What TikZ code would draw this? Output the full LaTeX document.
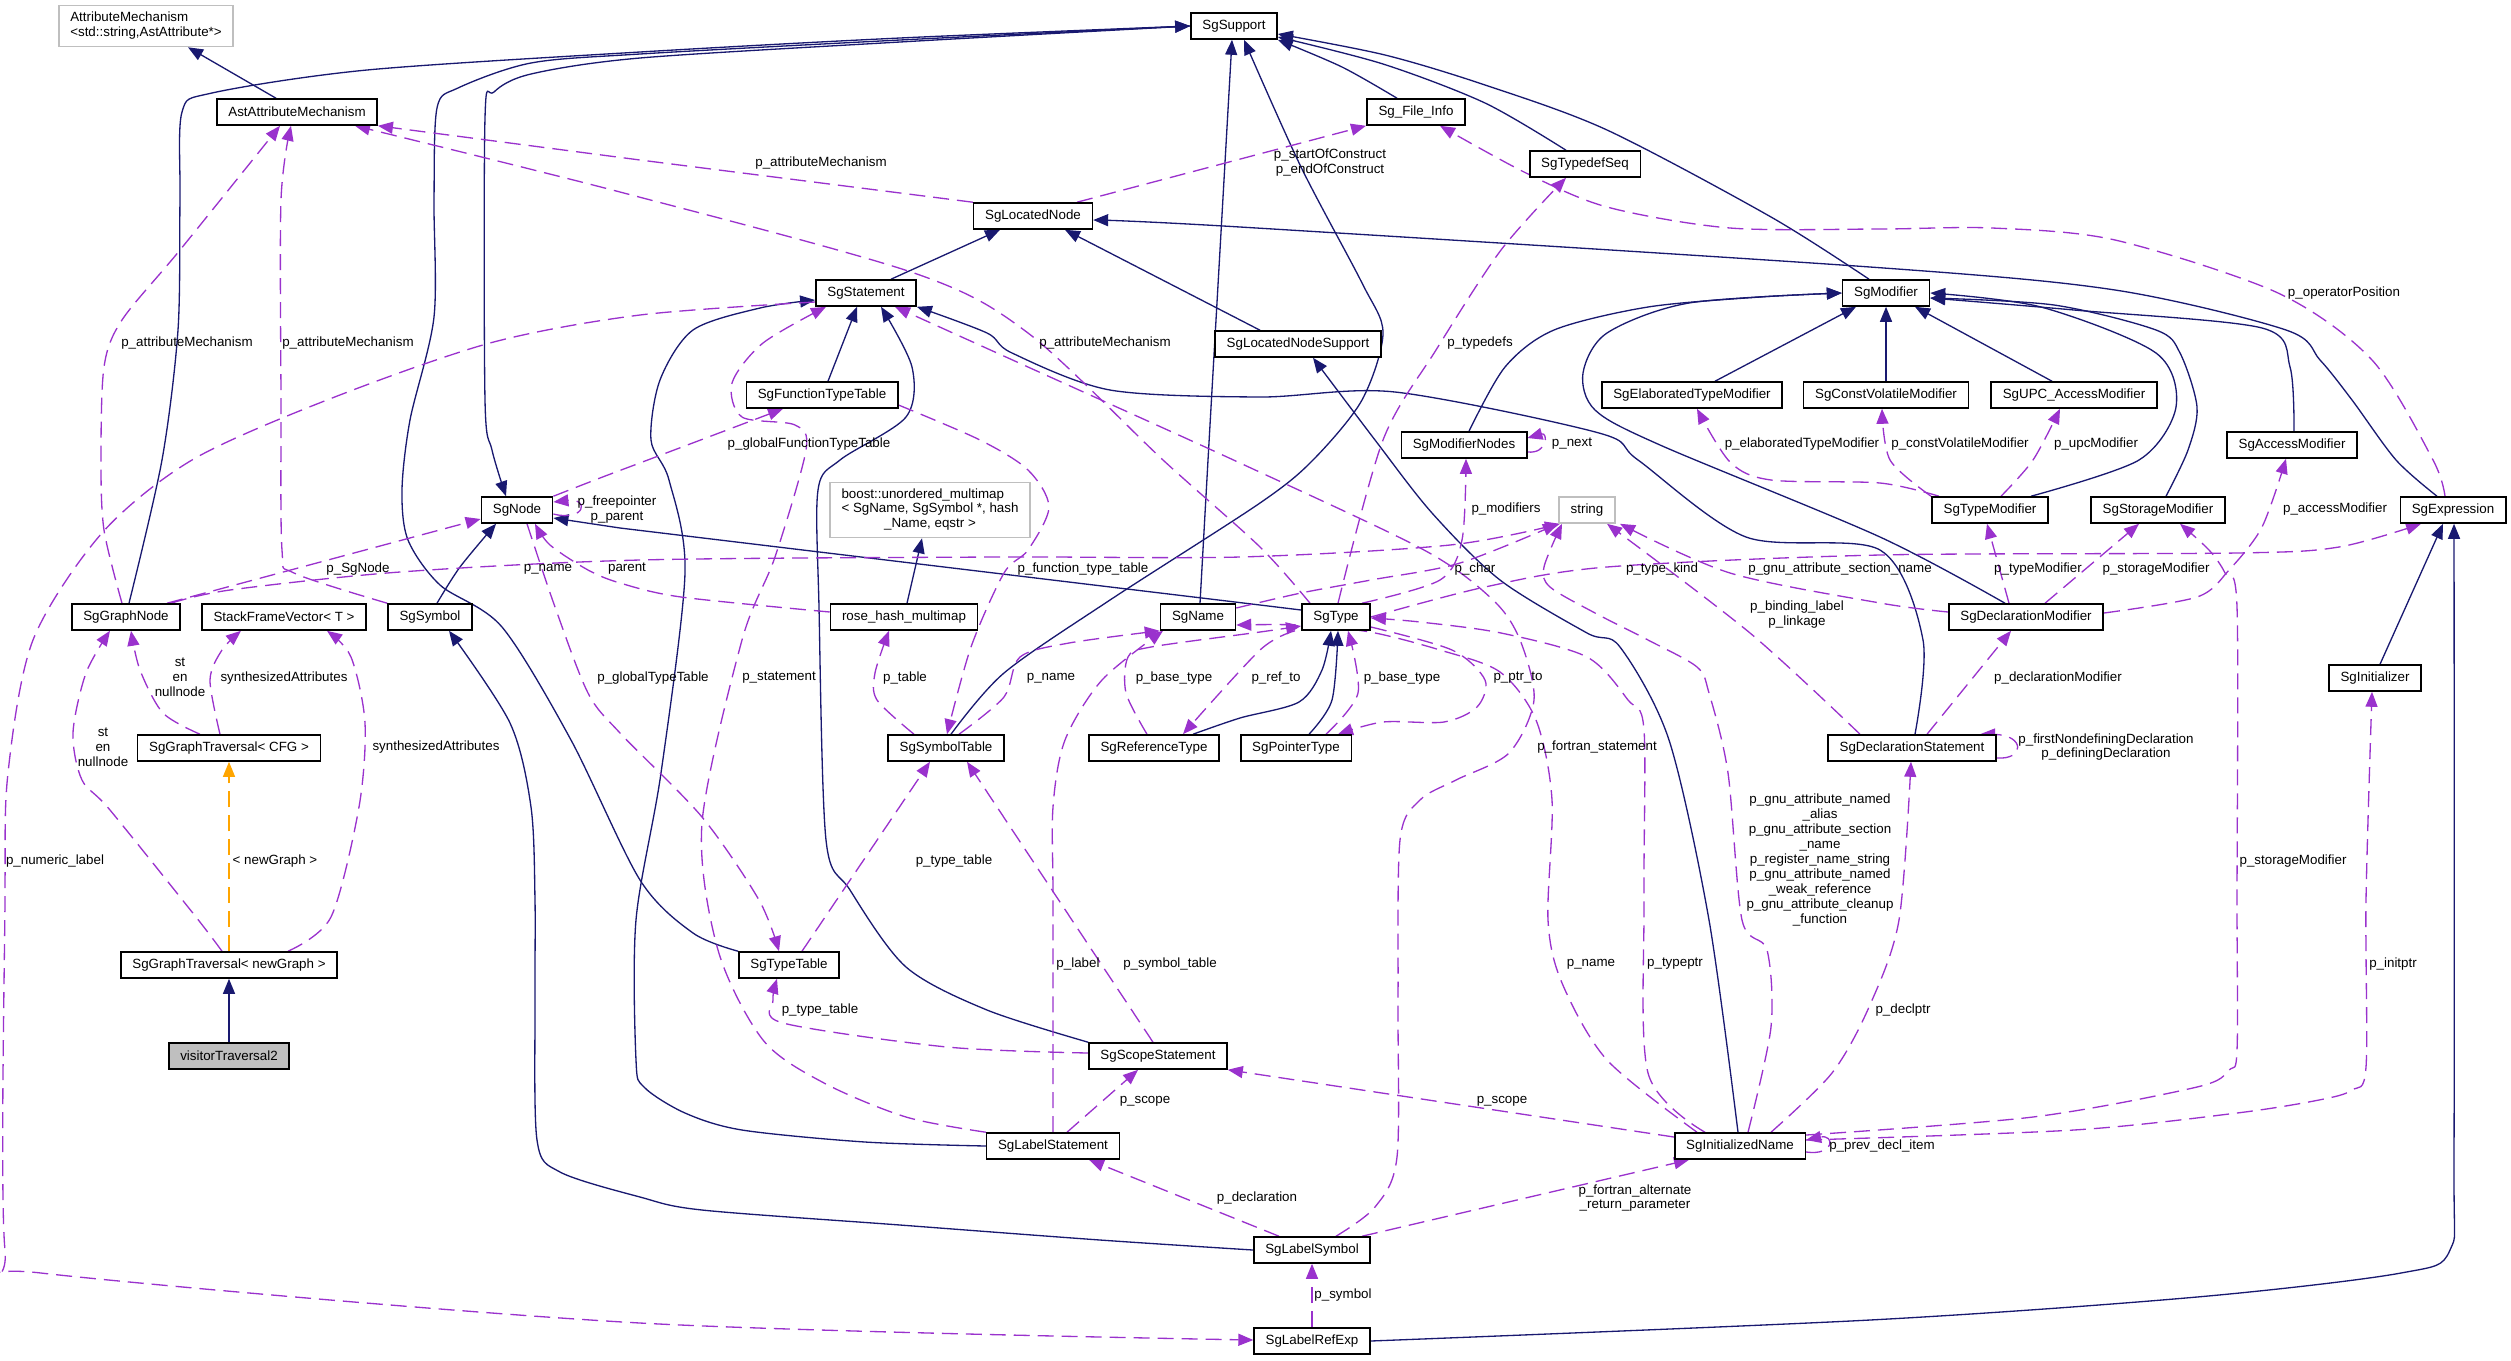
\documentclass[tikz,border=0pt]{standalone}
\usepackage{fontspec}
\setmainfont{Liberation Sans}
\usetikzlibrary{arrows.meta}
\definecolor{inhblue}{HTML}{191970}
\definecolor{usepurple}{HTML}{9A32CD}
\definecolor{tplorange}{HTML}{FFA500}
\definecolor{boxgray}{HTML}{BFBFBF}
\newcommand{\dxfont}{\fontsize{7.6}{8.5}\selectfont}
\pgfdeclarelayer{edges}
\pgfsetlayers{edges,main}
\begin{document}
\begin{tikzpicture}[x=0.02cm, y=-0.02cm,
    cls/.style={draw=black, line width=0.9pt, fill=white, font=\dxfont, inner xsep=0.23cm, inner ysep=0pt, minimum height=0.52cm},
    extcls/.style={cls, draw=boxgray},
    rootcls/.style={cls, fill=boxgray},
    inherit/.style={inhblue, line width=0.75pt, -{Triangle[length=0.3cm,width=0.24cm]}},
    usage/.style={usepurple, line width=0.75pt, dash pattern=on 0.32cm off 0.16cm, -{Triangle[length=0.3cm,width=0.24cm]}},
    tplinst/.style={usage, tplorange},
    lbl/.style={font=\dxfont, inner sep=0pt, align=center}]
\useasboundingbox (0,0) rectangle (2511,1360);

\node[extcls, align=left, minimum height=0.82cm] (AttrMech) at (146,26) {AttributeMechanism\\<std::string,AstAttribute*>};
\node[cls] (AstAttr) at (297,112) {AstAttributeMechanism};
\node[cls] (SgSupport) at (1234,26) {SgSupport};
\node[cls] (FileInfo) at (1416,112) {Sg\_File\_Info};
\node[cls] (TypedefSeq) at (1585,164) {SgTypedefSeq};
\node[cls] (LocNode) at (1033,216) {SgLocatedNode};
\node[cls] (Stmt) at (866,293) {SgStatement};
\node[cls] (Modifier) at (1886,293) {SgModifier};
\node[cls] (LocNodeSup) at (1298,344) {SgLocatedNodeSupport};
\node[cls] (FuncTT) at (822,395) {SgFunctionTypeTable};
\node[cls] (ElabMod) at (1692,395) {SgElaboratedTypeModifier};
\node[cls] (CVMod) at (1886,395) {SgConstVolatileModifier};
\node[cls] (UPCMod) at (2074,395) {SgUPC\_AccessModifier};
\node[cls] (ModNodes) at (1464,445) {SgModifierNodes};
\node[cls] (AccMod) at (2292,445) {SgAccessModifier};
\node[cls] (SgNode) at (517,510) {SgNode};
\node[extcls, minimum height=1.1cm] (Boost) at (930,510) {\begin{tabular}{@{}l@{}}boost::unordered\_multimap\\< SgName, SgSymbol *, hash\\\multicolumn{1}{@{}c@{}}{\_Name, eqstr >}\end{tabular}};
\node[extcls] (Str) at (1587,510) {string};
\node[cls] (TypeMod) at (1990,510) {SgTypeModifier};
\node[cls] (StorMod) at (2158,510) {SgStorageModifier};
\node[cls] (Expr) at (2453,510) {SgExpression};
\node[cls] (GraphNode) at (126,617) {SgGraphNode};
\node[cls] (StackFV) at (284,617) {StackFrameVector< T >};
\node[cls] (Symbol) at (430,617) {SgSymbol};
\node[cls] (RoseHash) at (904,617) {rose\_hash\_multimap};
\node[cls] (Name) at (1198,617) {SgName};
\node[cls] (Type) at (1336,617) {SgType};
\node[cls] (DeclMod) at (2026,617) {SgDeclarationModifier};
\node[cls] (Init) at (2375,678) {SgInitializer};
\node[cls] (TravCFG) at (229,748) {SgGraphTraversal< CFG >};
\node[cls] (SymTab) at (946,748) {SgSymbolTable};
\node[cls] (RefType) at (1154,748) {SgReferenceType};
\node[cls] (PtrType) at (1296,748) {SgPointerType};
\node[cls] (DeclStmt) at (1912,748) {SgDeclarationStatement};
\node[cls] (TravNew) at (229,965) {SgGraphTraversal< newGraph >};
\node[cls] (TypeTable) at (789,965) {SgTypeTable};
\node[rootcls] (Visitor) at (229,1056) {visitorTraversal2};
\node[cls] (ScopeStmt) at (1158,1056) {SgScopeStatement};
\node[cls] (LabelStmt) at (1053,1146) {SgLabelStatement};
\node[cls] (InitName) at (1740,1146) {SgInitializedName};
\node[cls] (LabelSym) at (1312,1250) {SgLabelSymbol};
\node[cls] (LabelRef) at (1312,1341) {SgLabelRefExp};

\begin{pgfonlayer}{edges}
\draw[inherit] (276,0 |- AstAttr.north) -- (188,0 |- AttrMech.south);
\draw[inherit] plot[smooth] coordinates {(129,0 |- GraphNode.north) (162,460) (178,330) (180,200) (182,112) (212,93) (367,70) (640,52) (900,38) (SgSupport.west)};
\draw[inherit] plot[smooth] coordinates {(TypeTable.north west) (693,933) (640,880) (571,740) (502,627) (440,585) (408,540) (402,490) (410,420) (434,317) (434,200) (437,108) (458,88) (531,63) (640,54) (900,40) (SgSupport.west)};
\draw[inherit] plot[smooth] coordinates {(SgSupport.west) (900,42) (640,58) (531,74) (494,92) (485,118) (485,400) (492,450) (506,0 |- SgNode.north)};
\draw[inherit] plot[smooth] coordinates {(437,0 |- Symbol.north) (460,567) (496,0 |- SgNode.south)};
\draw[inherit] plot[smooth] coordinates {(LabelSym.west) (1100,1240) (900,1225) (702,1210) (640,1197) (560,1172) (537,1140) (535,1000) (535,900) (531,807) (510,723) (449,0 |- Symbol.south)};
\draw[inherit] (1200,0 |- Name.north) -- (1208,460) -- (1232,0 |- SgSupport.south);
\draw[inherit] plot[smooth] coordinates {(951,0 |- SymTab.north) (1004,673) (1110,600) (1260,503) (1313,460) (1362,400) (1383,333) (1362,283) (1301,167) (1244,0 |- SgSupport.south)};
\draw[inherit] plot[smooth] coordinates {(1397,0 |- FileInfo.north) (1342,67) (SgSupport.south east)};
\draw[inherit] plot[smooth] coordinates {(1566,0 |- TypedefSeq.north) (1485,103) (1383,64) (SgSupport.east |- 0,37)};
\draw[inherit] plot[smooth] coordinates {(1869,0 |- Modifier.north) (1771,217) (1607,130) (1485,85) (1385,55) (SgSupport.east |- 0,34)};
\draw[inherit] (891,0 |- Stmt.north) -- (1000,0 |- LocNode.south);
\draw[inherit] (1260,0 |- LocNodeSup.north) -- (1065,0 |- LocNode.south);
\draw[inherit] plot[smooth] coordinates {(2437,0 |- Expr.north) (2396,460) (2352,400) (2320,360) (2286,330) (2115,290) (1870,267) (1240,227) (LocNode.east |- 0,220)};
\draw[inherit] (828,0 |- FuncTT.north) -- (857,0 |- Stmt.south);
\draw[inherit] plot[smooth] coordinates {(ScopeStmt.north west) (987,1010) (906,967) (850,890) (826,840) (819,607) (818,490) (840,460) (906,417) (912,367) (881,0 |- Stmt.south)};
\draw[inherit] plot[smooth] coordinates {(LabelStmt.west) (865,1142) (742,1130) (685,1113) (644,1087) (636,1060) (636,920) (661,773) (685,573) (669,480) (651,440) (660,380) (693,330) (760,308) (Stmt.west |- 0,300)};
\draw[inherit] plot[smooth] coordinates {(1915,0 |- DeclStmt.north) (1923,640) (1880,550) (1746,537) (1638,460) (1599,433) (1395,392) (1260,397) (1110,390) (1012,353) (987,333) (Stmt.south east)};
\draw[inherit] (1715,0 |- ElabMod.north) -- (1856,0 |- Modifier.south);
\draw[inherit] (CVMod.north) -- (Modifier.south);
\draw[inherit] (2052,0 |- UPCMod.north) -- (1915,0 |- Modifier.south);
\draw[inherit] plot[smooth] coordinates {(1469,0 |- ModNodes.north) (1505,367) (1554,330) (1648,307) (1760,297) (Modifier.west)};
\draw[inherit] plot[smooth] coordinates {(2005,0 |- DeclMod.north) (1880,537) (1660,445) (1595,410) (1583,373) (1607,333) (1689,303) (Modifier.west)};
\draw[inherit] plot[smooth] coordinates {(2031,0 |- TypeMod.north) (2139,460) (2176,407) (2156,353) (2041,307) (Modifier.east)};
\draw[inherit] plot[smooth] coordinates {(2166,0 |- StorMod.north) (2188,450) (2197,407) (2180,353) (2156,330) (2054,305) (Modifier.east |- 0,298)};
\draw[inherit] plot[smooth] coordinates {(2294,0 |- AccMod.north) (2290,367) (2262,328) (2074,310) (Modifier.east |- 0,298)};
\draw[inherit] (2380,0 |- Init.north) -- (2443,0 |- Expr.south);
\draw[inherit] plot[smooth] coordinates {(LabelRef.east) (1870,1320) (2197,1297) (2401,1273) (2450,1250) (2454,1150) (2454,0 |- Expr.south)};
\draw[inherit] plot[smooth] coordinates {(1738,0 |- InitName.north) (1709,920) (1669,740) (1620,647) (1587,633) (1500,580) (1432,513) (1375,440) (1313,0 |- LocNodeSup.south)};
\draw[inherit] plot[smooth] coordinates {(1193,0 |- RefType.north) (1240,718) (1299,702) (1322,670) (1331,0 |- Type.south)};
\draw[inherit] plot[smooth] coordinates {(1309,0 |- PtrType.north) (1332,700) (1338,0 |- Type.south)};
\draw[inherit] (Type.west |- 0,610) -- (1260,605) -- (620,528) -- (SgNode.east |- 0,518);
\draw[inherit] (907,0 |- RoseHash.north) -- (922,0 |- Boost.south);
\draw[inherit] (Visitor.north) -- (TravNew.south);
\draw[tplinst] (TravNew.north) -- (TravCFG.south);

\draw[usage] plot[smooth] coordinates {(122,0 |- GraphNode.north) (104,530) (101,460) (104,367) (122,320) (180,250) (280,0 |- AstAttr.south)};
\draw[usage] plot[smooth] coordinates {(Symbol.north west) (294,573) (282,550) (281,400) (281,200) (291,0 |- AstAttr.south)};
\draw[usage] (LocNode.north west) -- (640,160) -- (AstAttr.south east);
\draw[usage] plot[smooth] coordinates {(1310,0 |- Type.north) (1260,547) (1163,460) (1028,333) (914,273) (620,192) (355,0 |- AstAttr.south)};
\draw[usage] plot[smooth] coordinates {(Stmt.west |- 0,302) (640,315) (490,343) (327,400) (192,460) (102,533) (33,640) (8,773) (5,900) (5,1250) (41,1273) (640,1323) (LabelRef.west |- 0,1340)};
\draw[usage] plot[smooth] coordinates {(LabelStmt.north west) (906,1117) (824,1083) (763,1040) (718,950) (702,823) (742,640) (775,557) (806,450) (795,425) (742,417) (732,383) (763,343) (826,0 |- Stmt.south)};
\draw[usage] plot[smooth] coordinates {(1336,0 |- LabelSym.north) (1375,1207) (1397,1157) (1398,1000) (1400,840) (1420,800) (1456,780) (1509,753) (1534,700) (1520,640) (1493,600) (1424,550) (1240,463) (1028,367) (895,0 |- Stmt.south)};
\draw[usage] (SgNode.east |- 0,514) .. controls (585,522) and (590,498) .. (SgNode.east |- 0,502);
\draw[usage] (167,0 |- GraphNode.north) -- (SgNode.west |- 0,519);
\draw[usage] plot[smooth] coordinates {(171,0 |- GraphNode.north) (230,590) (400,572) (640,560) (1000,557) (1240,557) (1450,545) (1560,0 |- Str.south)};
\draw[usage] plot[smooth] coordinates {(RoseHash.west |- 0,612) (681,597) (620,583) (588,570) (550,545) (535,0 |- SgNode.south)};
\draw[usage] plot[smooth] coordinates {(527,0 |- SgNode.south) (555,607) (588,693) (620,733) (702,817) (759,900) (779,0 |- TypeTable.north)};
\draw[usage] plot[smooth] coordinates {(SgNode.north east) (600,478) (653,458) (783,0 |- FuncTT.south)};
\draw[usage] plot[smooth] coordinates {(FuncTT.east |- 0,405) (980,440) (1028,470) (1049,507) (1028,550) (1004,573) (971,647) (947,0 |- SymTab.north)};
\draw[usage] plot[smooth] coordinates {(914,0 |- SymTab.north) (877,700) (875,673) (889,0 |- RoseHash.south)};
\draw[usage] plot[smooth] coordinates {(959,0 |- SymTab.north) (1004,697) (1020,657) (1069,643) (Name.south west)};
\draw[usage] (802,0 |- TypeTable.north) -- (930,0 |- SymTab.south);
\draw[usage] (1153,0 |- ScopeStmt.north) -- (967,0 |- SymTab.south);
\draw[usage] plot[smooth] coordinates {(ScopeStmt.west |- 0,1053) (947,1047) (783,1023) (773,1000) (777,0 |- TypeTable.south)};
\draw[usage] (1067,0 |- LabelStmt.north) -- (1138,0 |- ScopeStmt.south);
\draw[usage] plot[smooth] coordinates {(1053,0 |- LabelStmt.north) (1053,900) (1053,807) (1065,740) (1102,680) (1163,0 |- Name.south)};
\draw[usage] (1279,0 |- LabelSym.north) -- (1089,0 |- LabelStmt.south);
\draw[usage] (1362,0 |- LabelSym.north) -- (1689,0 |- InitName.south);
\draw[usage] (LabelRef.north) -- (LabelSym.south);
\draw[usage] (InitName.west |- 0,1137) -- (ScopeStmt.south east);
\draw[usage] (InitName.east |- 0,1152) .. controls (1835,1156) and (1835,1134) .. (InitName.east |- 0,1140);
\draw[usage] plot[smooth] coordinates {(1697,0 |- InitName.north) (1607,1060) (1562,983) (1548,920) (1552,800) (1536,720) (1500,672) (1440,650) (1370,632) (1300,625) (Name.east |- 0,625)};
\draw[usage] plot[smooth] coordinates {(1705,0 |- InitName.north) (1648,1073) (1644,900) (1644,730) (1628,700) (1587,657) (1501,633) (1420,622) (Type.east |- 0,618)};
\draw[usage] plot[smooth] coordinates {(1748,0 |- InitName.north) (1771,1027) (1767,950) (1742,920) (1728,773) (1709,693) (1697,667) (1648,640) (1595,613) (1550,587) (1544,567) (1562,0 |- Str.south)};
\draw[usage] plot[smooth] coordinates {(1771,0 |- InitName.north) (1832,1073) (1869,1007) (1899,920) (1911,0 |- DeclStmt.south)};
\draw[usage] plot[smooth] coordinates {(InitName.east |- 0,1135) (2033,1117) (2197,1087) (2229,1070) (2237,1050) (2237,900) (2237,607) (2225,573) (2209,550) (2180,0 |- StorMod.south)};
\draw[usage] plot[smooth] coordinates {(InitName.east |- 0,1140) (2074,1130) (2237,1113) (2319,1100) (2352,1090) (2366,1067) (2366,900) (2372,0 |- Init.south)};
\draw[usage] plot[smooth] coordinates {(Name.east |- 0,608) (1301,593) (1371,580) (1460,563) (1558,0 |- Str.south)};
\draw[usage] plot[smooth] coordinates {(1362,0 |- Type.north) (1440,580) (1462,540) (1466,0 |- ModNodes.south)};
\draw[usage] plot[smooth] coordinates {(1338,0 |- Type.north) (1383,440) (1436,350) (1501,250) (1566,0 |- TypedefSeq.south)};
\draw[usage] plot[smooth] coordinates {(Type.east |- 0,627) (1452,650) (1485,680) (1477,707) (1444,722) (1383,722) (1338,0 |- PtrType.north)};
\draw[usage] plot[smooth] coordinates {(1326,0 |- PtrType.north) (1358,693) (1348,0 |- Type.south)};
\draw[usage] plot[smooth] coordinates {(1147,0 |- RefType.north) (1126,693) (1128,657) (1151,647) (1260,632) (Type.west |- 0,626)};
\draw[usage] plot[smooth] coordinates {(1295,0 |- Type.south) (1260,650) (1183,0 |- RefType.north)};
\draw[usage] plot[smooth] coordinates {(Type.east |- 0,617) (1485,587) (1607,567) (1880,555) (2237,553) (2339,547) (2421,0 |- Expr.south)};
\draw[usage] plot[smooth] coordinates {(2445,0 |- Expr.north) (2433,460) (2372,360) (2278,293) (2115,240) (1992,228) (1880,229) (1730,228) (1607,207) (1526,173) (1440,0 |- FileInfo.south)};
\draw[usage] (1077,0 |- LocNode.north) -- (1366,0 |- FileInfo.south);
\draw[usage] (ModNodes.east |- 0,452) .. controls (1548,454) and (1548,432) .. (ModNodes.east |- 0,438);
\draw[usage] plot[smooth] coordinates {(1939,0 |- TypeMod.north) (1880,483) (1771,480) (1730,462) (1697,0 |- ElabMod.south)};
\draw[usage] plot[smooth] coordinates {(1931,0 |- TypeMod.north) (1890,460) (1882,0 |- CVMod.south)};
\draw[usage] plot[smooth] coordinates {(2001,0 |- TypeMod.north) (2033,460) (2060,0 |- UPCMod.south)};
\draw[usage] plot[smooth] coordinates {(DeclMod.east |- 0,613) (2197,597) (2229,570) (2262,527) (2286,0 |- AccMod.south)};
\draw[usage] (2009,0 |- DeclMod.north) -- (1987,0 |- TypeMod.south);
\draw[usage] (2045,0 |- DeclMod.north) -- (2139,0 |- StorMod.south);
\draw[usage] plot[smooth] coordinates {(DeclMod.west |- 0,612) (1880,603) (1730,573) (1620,0 |- Str.south)};
\draw[usage] plot[smooth] coordinates {(1860,0 |- DeclStmt.north) (1750,633) (1607,0 |- Str.south)};
\draw[usage] (1927,0 |- DeclStmt.north) -- (2011,0 |- DeclMod.south);
\draw[usage] (DeclStmt.east |- 0,758) .. controls (2025,760) and (2025,735) .. (1980,0 |- DeclStmt.north);
\draw[usage] plot[smooth] coordinates {(200,0 |- TravCFG.north) (163,713) (140,670) (131,0 |- GraphNode.south)};
\draw[usage] plot[smooth] coordinates {(220,0 |- TravCFG.north) (210,680) (222,650) (241,0 |- StackFV.south)};
\draw[usage] plot[smooth] coordinates {(222,0 |- TravNew.north) (196,917) (110,810) (82,780) (73,733) (86,673) (110,0 |- GraphNode.south)};
\draw[usage] plot[smooth] coordinates {(288,0 |- TravNew.north) (331,917) (359,807) (365,723) (351,657) (327,0 |- StackFV.south)};
\end{pgfonlayer}

\node[lbl] (lAttrA) at (187,343) {p\_attributeMechanism};
\node[lbl] (lAttrB) at (348,343) {p\_attributeMechanism};
\node[lbl] (lAttrC) at (821,163) {p\_attributeMechanism};
\node[lbl] (lAttrD) at (1105,343) {p\_attributeMechanism};
\node[lbl] (lConstruct) at (1330,163) {p\_startOfConstruct\\p\_endOfConstruct};
\node[lbl] (lTypedefs) at (1480,343) {p\_typedefs};
\node[lbl] (lOpPos) at (2344,293) {p\_operatorPosition};
\node[lbl] (lGlobFTT) at (809,444) {p\_globalFunctionTypeTable};
\node[lbl] (lElab) at (1802,444) {p\_elaboratedTypeModifier};
\node[lbl] (lCV) at (1960,444) {p\_constVolatileModifier};
\node[lbl] (lUPC) at (2096,444) {p\_upcModifier};
\node[lbl] (lNext) at (1572,444) {p\_next};
\node[lbl] (lFree) at (617,510) {p\_freepointer\\p\_parent};
\node[lbl] (lMods) at (1506,509) {p\_modifiers};
\node[lbl] (lAcc) at (2335,509) {p\_accessModifier};
\node[lbl] (lSgNode) at (358,569) {p\_SgNode};
\node[lbl] (lNameA) at (548,569) {p\_name};
\node[lbl] (lParent) at (627,569) {parent};
\node[lbl] (lFTT) at (1083,569) {p\_function\_type\_table};
\node[lbl] (lChar) at (1475,569) {p\_char};
\node[lbl] (lKind) at (1662,569) {p\_type\_kind};
\node[lbl] (lSection) at (1840,569) {p\_gnu\_attribute\_section\_name};
\node[lbl] (lTypeMod) at (2038,569) {p\_typeModifier};
\node[lbl] (lStorA) at (2156,569) {p\_storageModifier};
\node[lbl] (lBinding) at (1797,615) {p\_binding\_label\\p\_linkage};
\node[lbl] (lStA) at (180,677) {st\\en\\nullnode};
\node[lbl] (lSynA) at (284,678) {synthesizedAttributes};
\node[lbl] (lGlobTT) at (653,678) {p\_globalTypeTable};
\node[lbl] (lStmt) at (779,678) {p\_statement};
\node[lbl] (lTable) at (905,678) {p\_table};
\node[lbl] (lNameB) at (1051,678) {p\_name};
\node[lbl] (lBaseA) at (1174,678) {p\_base\_type};
\node[lbl] (lRef) at (1276,678) {p\_ref\_to};
\node[lbl] (lBaseB) at (1402,678) {p\_base\_type};
\node[lbl] (lPtr) at (1518,678) {p\_ptr\_to};
\node[lbl] (lDeclMod) at (2058,678) {p\_declarationModifier};
\node[lbl] (lStB) at (103,747) {st\\en\\nullnode};
\node[lbl] (lSynB) at (436,747) {synthesizedAttributes};
\node[lbl] (lFortran) at (1597,747) {p\_fortran\_statement};
\node[lbl] (lDefining) at (2106,747) {p\_firstNondefiningDeclaration\\p\_definingDeclaration};
\node[lbl] (lGnu) at (1820,860) {p\_gnu\_attribute\_named\\\_alias\\p\_gnu\_attribute\_section\\\_name\\p\_register\_name\_string\\p\_gnu\_attribute\_named\\\_weak\_reference\\p\_gnu\_attribute\_cleanup\\\_function};
\node[lbl] (lNumeric) at (55,861) {p\_numeric\_label};
\node[lbl] (lNewGraph) at (275,861) {< newGraph >};
\node[lbl] (lTTA) at (954,861) {p\_type\_table};
\node[lbl] (lStorB) at (2293,861) {p\_storageModifier};
\node[lbl] (lLabel) at (1078,964) {p\_label};
\node[lbl] (lSymTab) at (1170,964) {p\_symbol\_table};
\node[lbl] (lNameC) at (1591,964) {p\_name};
\node[lbl] (lTypeptr) at (1675,964) {p\_typeptr};
\node[lbl] (lInitptr) at (2393,964) {p\_initptr};
\node[lbl] (lTTB) at (820,1010) {p\_type\_table};
\node[lbl] (lDeclptr) at (1903,1010) {p\_declptr};
\node[lbl] (lScopeA) at (1145,1101) {p\_scope};
\node[lbl] (lScopeB) at (1502,1101) {p\_scope};
\node[lbl] (lPrev) at (1882,1146) {p\_prev\_decl\_item};
\node[lbl] (lDecl) at (1257,1198) {p\_declaration};
\node[lbl] (lAltRet) at (1635,1198) {p\_fortran\_alternate\\\_return\_parameter};
\node[lbl] (lSymbol) at (1343,1295) {p\_symbol};
\end{tikzpicture}
\end{document}
